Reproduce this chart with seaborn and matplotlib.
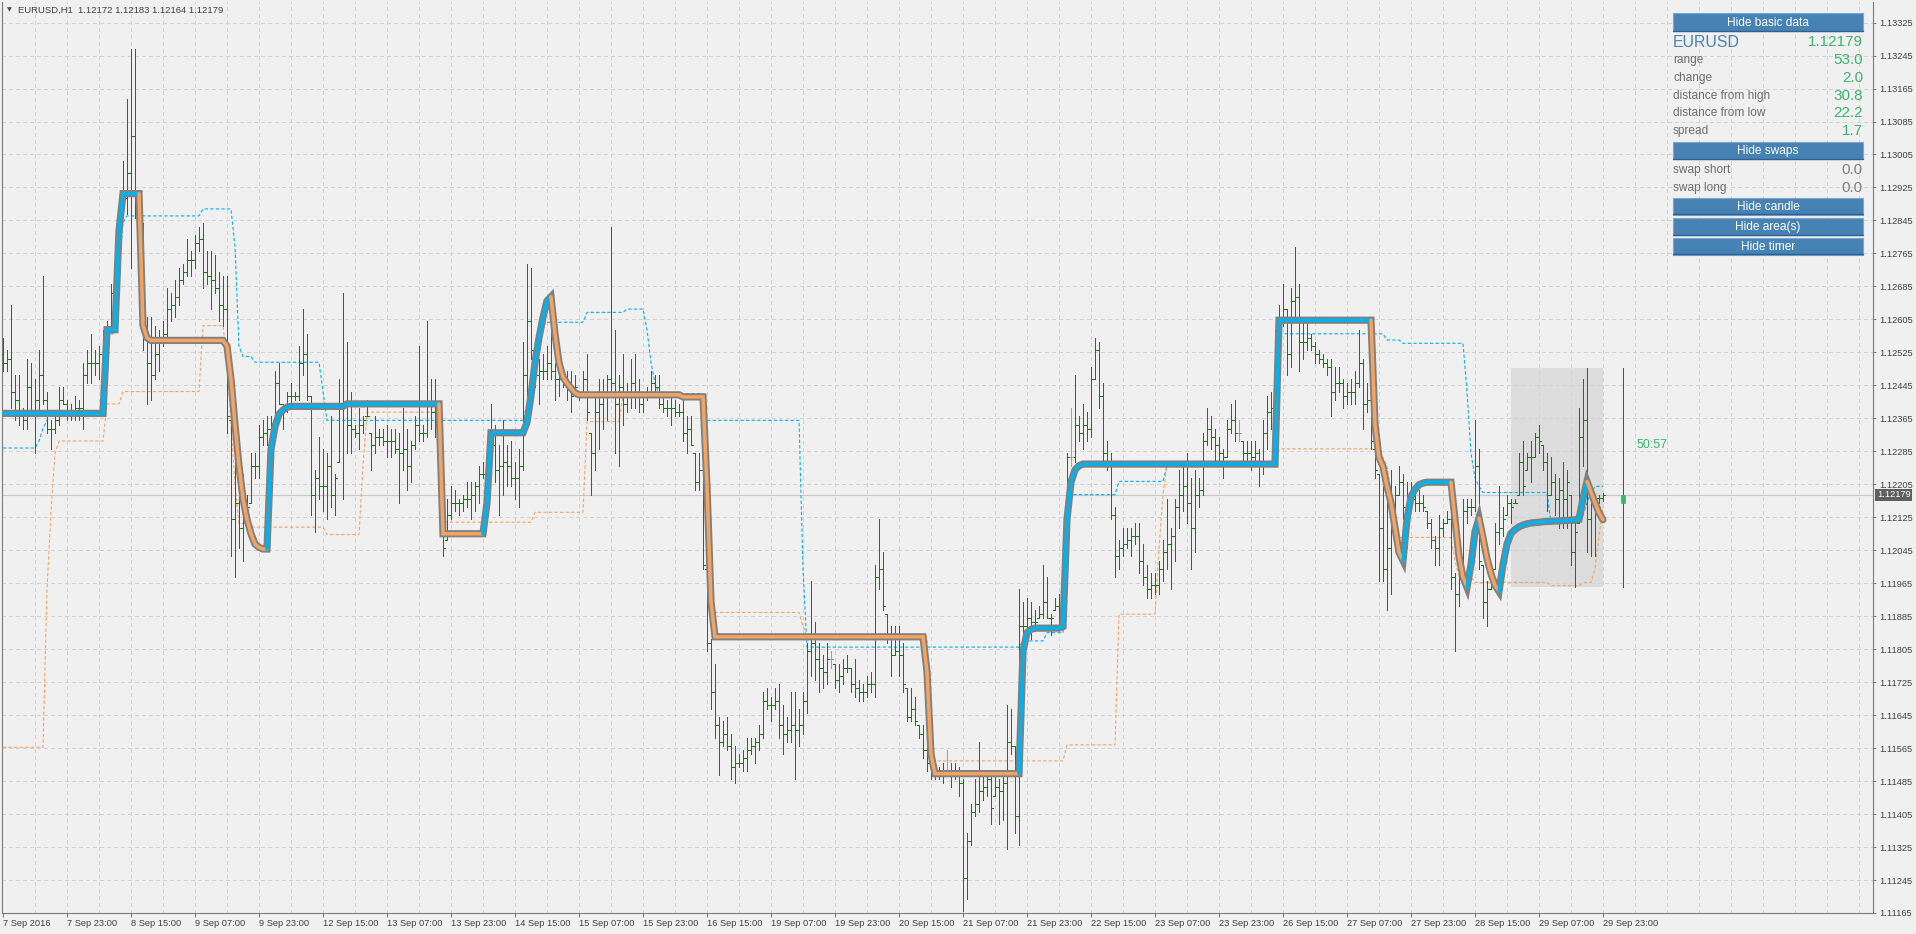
import numpy as np
import matplotlib
matplotlib.use("Agg")
import matplotlib.pyplot as plt
import seaborn as sns
from matplotlib.patches import Rectangle
from matplotlib.transforms import blended_transform_factory

# EURUSD H1, 7 Sep 07:00 .. 29 Sep 23:00 (401 bars)
# prices are stored in pips above BASE
BASE = 1.1100

bar_high = [
    156, 153, 164, 147, 147, 139, 151, 150, 146, 153, 171, 143, 136, 137, 144, 144, 141, 140, 142, 141,
    150, 153, 157, 153, 154, 158, 160, 169, 178, 183, 199, 214, 226, 226, 191, 184, 161, 161, 159, 158,
    160, 168, 167, 170, 173, 174, 180, 177, 181, 183, 184, 177, 177, 176, 172, 171, 171, 136, 132, 126,
    123, 118, 128, 128, 135, 136, 137, 137, 148, 150, 140, 143, 145, 143, 154, 163, 157, 142, 124, 132,
    129, 128, 137, 123, 146, 167, 155, 143, 135, 139, 137, 141, 133, 137, 134, 134, 135, 134, 134, 133,
    139, 134, 131, 137, 154, 135, 160, 146, 146, 140, 122, 117, 120, 119, 117, 118, 121, 121, 121, 125,
    126, 127, 140, 135, 130, 136, 130, 131, 126, 129, 155, 174, 173, 155, 151, 152, 154, 166, 150, 149,
    148, 148, 148, 147, 143, 148, 152, 133, 142, 146, 146, 147, 183, 158, 147, 152, 145, 151, 152, 146,
    143, 144, 148, 147, 147, 143, 141, 142, 141, 140, 141, 137, 137, 128, 128, 128, 100, 83, 77, 64,
    63, 64, 60, 57, 55, 56, 59, 59, 59, 62, 70, 71, 69, 71, 72, 67, 64, 70, 70, 66,
    70, 82, 97, 87, 82, 79, 82, 80, 77, 77, 78, 79, 76, 78, 73, 72, 74, 75, 101, 112,
    104, 89, 86, 86, 86, 82, 71, 71, 69, 62, 62, 58, 54, 52, 52, 53, 56, 53, 53, 52,
    49, 36, 43, 49, 58, 51, 50, 51, 50, 49, 50, 67, 66, 57, 95, 92, 93, 92, 90, 91,
    101, 98, 89, 93, 94, 105, 128, 139, 147, 137, 140, 138, 149, 156, 155, 145, 131, 128, 115, 107,
    110, 110, 110, 111, 111, 106, 101, 99, 99, 102, 107, 117, 110, 117, 124, 125, 128, 122, 124, 122,
    133, 139, 137, 134, 132, 129, 136, 140, 141, 136, 131, 131, 131, 131, 129, 136, 142, 143, 158, 164,
    169, 163, 168, 178, 169, 160, 160, 157, 155, 153, 152, 151, 151, 149, 149, 146, 145, 146, 148, 158,
    151, 145, 147, 129, 123, 120, 118, 124, 120, 125, 123, 121, 121, 119, 119, 118, 114, 112, 108, 113,
    112, 114, 114, 99, 100, 117, 117, 117, 136, 129, 101, 97, 101, 111, 120, 115, 118, 117, 117, 128,
    131, 128, 131, 133, 135, 130, 128, 127, 123, 122, 126, 124, 118, 112, 139, 146, 148.7, 118, 118, 118,
    118.3,
]

bar_low = [
    148, 148, 139, 136, 135, 134, 134, 137, 128, 137, 140, 133, 129, 133, 135, 140, 136, 136, 136, 136,
    134, 145, 145, 147, 146, 149, 152, 159, 165, 174, 187, 186, 173, 185, 179, 153, 140, 141, 146, 148,
    154, 156, 160, 161, 164, 169, 171, 171, 173, 177, 168, 169, 163, 167, 160, 159, 133, 103, 98, 105,
    102, 110, 116, 122, 122, 130, 130, 131, 134, 140, 134, 138, 140, 141, 141, 147, 141, 113, 109, 117,
    114, 112, 115, 113, 126, 117, 128, 128, 132, 129, 133, 137, 124, 128, 130, 130, 127, 127, 128, 116,
    124, 119, 121, 129, 131, 131, 132, 134, 132, 120, 103, 107, 112, 114, 113, 114, 115, 112, 114, 116,
    122, 114, 126, 121, 113, 118, 120, 120, 117, 115, 124, 140, 151, 144, 140, 146, 146, 146, 141, 142,
    144, 141, 138, 143, 141, 142, 136, 118, 124, 129, 134, 136, 142, 128, 125, 135, 138, 139, 139, 138,
    138, 141, 143, 142, 139, 138, 137, 135, 137, 137, 131, 128, 130, 119, 119, 100, 80, 66, 59, 50,
    57, 56, 49, 48, 52, 51, 51, 55, 53, 56, 59, 66, 63, 66, 59, 55, 58, 58, 49, 57,
    60, 65, 74, 73, 70, 71, 72, 76, 71, 70, 72, 75, 70, 69, 68, 68, 69, 70, 69, 95,
    90, 82, 74, 79, 74, 70, 63, 63, 62, 59, 54, 51, 49, 49, 49, 48, 51, 47, 49, 45,
    17, 20, 33, 40, 41, 44, 45, 38, 45, 38, 39, 32, 55, 36, 33, 82, 84, 83, 85, 88,
    88, 88, 84, 90, 86, 88, 100, 125, 126, 131, 129, 131, 132, 146, 139, 126, 124, 112, 98, 100,
    103, 105, 103, 106, 99, 96, 93, 93, 94, 94, 97, 100, 95, 102, 110, 114, 111, 100, 104, 115,
    118, 130, 129, 126, 126, 122, 127, 133, 131, 131, 126, 126, 124, 126, 120, 123, 129, 134, 129, 157,
    159, 147, 149, 161, 148, 151, 153, 153, 150, 150, 149, 147, 137, 141, 143, 139, 140, 140, 140, 144,
    134, 138, 129, 122, 97, 97, 90, 94, 106, 118, 112, 105, 114, 114, 114, 114, 110, 105, 101, 101,
    108, 111, 95, 80, 91, 97, 111, 113, 114, 100, 88, 86, 95, 100, 106, 108, 113, 111, 116, 118,
    118, 124, 121, 127, 128, 124, 114, 118, 113, 110, 110, 110, 101, 95.7, 111, 125, 104, 103, 103, 116,
    116.4,
]

bar_close = [
    150, 151, 143, 141, 137, 136, 144, 138, 141, 147, 141, 134, 134, 136, 141, 140, 138, 138, 139, 139,
    147, 150, 150, 150, 152, 155, 159, 167, 176, 182, 190, 196, 205, 188, 183, 157, 150, 147, 152, 155,
    157, 163, 164, 166, 170, 172, 175, 175, 179, 180, 172, 171, 170, 168, 164, 163, 137, 112, 116, 110,
    112, 115, 125, 125, 132, 133, 134, 135, 145, 140, 139, 142, 142, 142, 150, 152, 142, 118, 122, 120,
    120, 125, 118, 122, 140, 140, 135, 134, 133, 135, 136, 137, 130, 132, 132, 131, 131, 131, 129, 128,
    129, 125, 130, 135, 133, 133, 140, 138, 138, 122, 105, 113, 116, 116, 116, 117, 117, 118, 120, 123,
    123, 126, 130, 124, 125, 126, 125, 122, 122, 125, 147, 160, 153, 147, 148, 148, 150, 148, 146, 146,
    145, 144, 142, 144, 142, 146, 138, 128, 138, 140, 142, 146, 145, 140, 144, 140, 142, 145, 142, 140,
    142, 143, 145, 144, 140, 139, 139, 139, 138, 138, 133, 134, 130, 121, 124, 101, 82, 70, 62, 58,
    60, 57, 52, 53, 53, 54, 56, 57, 58, 60, 68, 67, 67, 68, 62, 60, 61, 62, 61, 62,
    68, 80, 82, 78, 76, 75, 78, 78, 73, 74, 76, 76, 72, 71, 70, 70, 72, 72, 98, 100,
    91, 84, 79, 80, 79, 72, 64, 66, 63, 60, 56, 53, 51, 50, 51, 51, 51, 50, 50, 48,
    25, 34, 41, 43, 46, 47, 49, 42, 47, 46, 48, 58, 57, 40, 86, 86, 88, 87, 87, 89,
    92, 88, 88, 91, 90, 102, 127, 127, 135, 133, 135, 134, 146, 153, 142, 128, 126, 113, 103, 105,
    106, 107, 108, 108, 102, 98, 95, 96, 96, 100, 104, 106, 108, 115, 118, 120, 116, 110, 118, 119,
    131, 134, 132, 130, 128, 127, 134, 136, 133, 133, 128, 128, 127, 128, 125, 133, 138, 139, 155, 160,
    163, 152, 165, 166, 155, 155, 156, 154, 152, 151, 150, 149, 143, 145, 145, 142, 143, 143, 145, 150,
    140, 141, 131, 124, 110, 100, 105, 115, 118, 121, 115, 117, 117, 116, 116, 115, 111, 107, 105, 110,
    111, 112, 98, 94, 98, 114, 115, 115, 125, 102, 92, 95, 99, 109, 110, 112, 116, 115, 116, 126,
    120, 127, 127, 132, 131, 126, 118, 121, 117, 119, 117, 121, 104, 109, 132, 136, 112, 116, 117.2, 117.2,
    117.9,
]

first_open = 152
grey_bars = [207, 236, 267, 309]

# trend line (thick grey with blue/orange centre)
line_vals = ([137.7] * 26 + [158] * 3 + [182] + [191] * 5 + [159, 156] + [155.4] * 19
             + [154, 146, 135, 125, 117, 112, 108.5, 106, 105.2, 104.8, 104.8]
             + [129, 134.5, 137.5, 138.5, 139.2] + [139.4] * 14 + [140] * 24
             + [108.5] * 11 + [116] + [133] * 9
             + [135.5, 142, 150, 156, 161, 165, 166, 157, 150, 146.5, 145, 143.8, 142.7]
             + [142.2] * 26 + [141.7] * 6 + [120, 92] + [83.5] * 53 + [75, 55] + [50.3] * 22
             + [80, 84.5, 85.3] + [85.6] * 7 + [86, 112, 121, 124, 125] + [125.4] * 49
             + [160.3] * 24
             + [135, 127, 124.8, 120, 116, 110, 104, 102, 112, 117.5, 119.3, 120.4, 120.8]
             + [121] * 7
             + [112, 103, 98, 95.5, 101, 109, 112.3, 107.5, 102.5, 98.8, 96, 94.5, 101, 106,
                108.6, 109.5, 110.2, 110.6, 110.9, 111.1, 111.2, 111.3, 111.4, 111.5, 111.5,
                111.6, 111.6, 111.7, 111.7, 111.8, 111.9, 112, 117, 121.2, 118.6, 116, 113.6, 111.9])

# dotted channel lines, as (first bar, level) steps
upper_runs = [(0, 129.3), (9, 131), (10, 134), (11, 136), (12, 137.5), (26, 157), (29, 172), (30, 184),
              (31, 185.6), (50, 187.3), (58, 178), (59, 154), (60, 151.5), (63, 150.1), (80, 143),
              (81, 136), (131, 140), (132, 146), (133, 152), (134, 156), (135, 159), (136, 159.8),
              (146, 162.2), (156, 163), (161, 158), (162, 150), (163, 145), (164, 142.5), (176, 136),
              (200, 100), (201, 81), (255, 82.5), (261, 84.5), (266, 118), (279, 121.2), (291, 125),
              (319, 157), (346, 155.5), (350, 154.7), (366, 143), (367, 128), (368, 122), (369, 120),
              (370, 118.5), (387, 111), (395, 113), (396, 116), (397, 118.5), (398, 120)]
lower_runs = [(0, 56.7), (11, 95), (12, 114), (13, 128), (14, 131), (26, 140), (30, 143), (50, 159),
              (56, 150), (57, 135), (58, 120), (59, 111), (62, 110.1), (81, 108.3), (90, 125), (91, 138),
              (110, 112), (111, 111.3), (133, 113.7), (146, 135.7), (155, 142), (176, 120), (177, 89.4),
              (200, 86), (201, 83.5), (232, 53.4), (266, 57.3), (279, 89), (289, 105), (290, 118),
              (291, 125), (319, 129.1), (345, 127), (346, 125), (347, 118), (348, 112), (349, 107.6),
              (363, 102), (364, 98.1), (368, 96.7), (387, 95.9), (395, 96.7), (398, 100), (399, 108),
              (400, 115)]

day_high, day_low, day_open, day_close = 148.7, 95.7, 115.9, 117.9
area_first, area_last = 377, 400

x_labels = ["7 Sep 2016", "7 Sep 23:00", "8 Sep 15:00", "9 Sep 07:00", "9 Sep 23:00", "12 Sep 15:00",
            "13 Sep 07:00", "13 Sep 23:00", "14 Sep 15:00", "15 Sep 07:00", "15 Sep 23:00",
            "16 Sep 15:00", "19 Sep 07:00", "19 Sep 23:00", "20 Sep 15:00", "21 Sep 07:00",
            "21 Sep 23:00", "22 Sep 15:00", "23 Sep 07:00", "23 Sep 23:00", "26 Sep 15:00",
            "27 Sep 07:00", "27 Sep 23:00", "28 Sep 15:00", "29 Sep 07:00", "29 Sep 23:00"]
y_ticks = [round(1.11165 + 0.0008 * k, 5) for k in range(28)]

header = "EURUSD,H1  1.12172 1.12183 1.12164 1.12179"
bid_text = "1.12179"
timer_text = "50:57"
basic_rows = [("range", "53.0"), ("change", "2.0"), ("distance from high", "30.8"),
              ("distance from low", "22.2"), ("spread", "1.7")]
swap_rows = [("swap short", "0.0"), ("swap long", "0.0")]

BG = "#f0f0f0"
GRID = "#d2d2d2"
GREEN = "#0e7f0e"
BLUE = "#00b2ee"
ORANGE = "#f4a460"
SEA = "#3cb371"
STEEL = "#4682b4"

W, H = 1916, 934
sns.set_style("white")
plt.rcParams['font.family'] = ['Liberation Sans', 'DejaVu Sans']


def px(p):
    return BASE + np.asarray(p, dtype=float) / 1e4


def expand(runs, n):
    out = np.empty(n)
    for k, (b, val) in enumerate(runs):
        e = runs[k + 1][0] if k + 1 < len(runs) else n
        out[b:e] = val
    return out


n = len(bar_close)
assert len(bar_high) == n and len(bar_low) == n and len(line_vals) == n
x = np.arange(n)
hi = px(bar_high)
lo = px(bar_low)
cl = px(bar_close)
op = np.clip(px([first_open] + bar_close[:-1]), lo, hi)

fig = plt.figure(figsize=(W / 100, H / 100), dpi=100, facecolor=BG)
ax = fig.add_axes([2 / W, (H - 913) / H, 1871 / W, 911 / H])
ax.set_facecolor(BG)
ax.set_xlim(-0.25, 467.5)
ax.set_ylim(px(16.77), px(237.49))

# grid
for k in range(8, 468, 8):
    ax.axvline(k, color=GRID, lw=0.72, linestyle=(0, (3, 3)), zorder=0.5, antialiased=False)
for t in y_ticks:
    ax.axhline(t, color=GRID, lw=0.72, linestyle=(0, (3, 3)), zorder=0.5, antialiased=False)

# today's area
ax.add_patch(Rectangle((area_first, px(day_low)), area_last - area_first, px(day_high) - px(day_low),
                       facecolor="#dcdcdc", edgecolor="none", zorder=0.4))

# bid line
ax.axhline(px(day_close), color="#c8c8c8", lw=0.8, zorder=1)

# channel lines
sns.lineplot(x=x, y=px(expand(upper_runs, n)), ax=ax, color=BLUE, lw=0.8,
             linestyle=(0, (3, 2)), zorder=2, errorbar=None)
sns.lineplot(x=x, y=px(expand(lower_runs, n)), ax=ax, color=ORANGE, lw=0.8,
             linestyle=(0, (3, 2)), zorder=2, errorbar=None)

# OHLC bars
cols = ["#a0a0a0" if i in grey_bars else GREEN for i in range(n)]
ax.vlines(x, lo, hi, colors=cols, lw=0.7, zorder=3, antialiased=False)
ax.hlines(op, x - 0.4, x, colors=cols, lw=0.7, zorder=3, antialiased=False)
ax.hlines(cl, x, x + 0.4, colors=cols, lw=0.7, zorder=3, antialiased=False)

# trend line
v = np.array(line_vals, dtype=float)
sns.lineplot(x=x, y=px(v), ax=ax, color="#808080", lw=5.2, zorder=5, errorbar=None,
             solid_joinstyle="miter")
seg_up, state = [], True
for i in range(1, n):
    if v[i] > v[i - 1]:
        state = True
    elif v[i] < v[i - 1]:
        state = False
    seg_up.append(state)
start = 0
for i in range(1, len(seg_up) + 1):
    if i == len(seg_up) or seg_up[i] != seg_up[start]:
        ax.plot(x[start:i + 1], px(v[start:i + 1]), color=BLUE if seg_up[start] else ORANGE,
                lw=2.5, zorder=6, solid_joinstyle="miter")
        start = i

# daily candle + timer
ax.vlines(405, px(day_low), px(day_high), colors=GREEN, lw=0.7, zorder=3, antialiased=False)
ax.add_patch(Rectangle((404.6, px(day_open)), 0.8, px(day_close) - px(day_open),
                       facecolor=SEA, edgecolor=SEA, lw=0.5, zorder=4))
ax.text(408.3, px(130), timer_text, color=SEA, fontsize=9, va="center", ha="left", zorder=7)

ax.set_xlabel("")
ax.set_ylabel("")

# axes / ticks
for s in ("left", "right", "bottom"):
    ax.spines[s].set_color("#7a7a7a")
    ax.spines[s].set_linewidth(0.8)
ax.spines["top"].set_visible(False)
ax.yaxis.tick_right()
ax.set_yticks(y_ticks)
ax.set_yticklabels([f"{t:.5f}" for t in y_ticks])
ax.set_xticks(np.arange(0, 16 * len(x_labels), 16))
ax.set_xticklabels(x_labels)
for lab in ax.get_xticklabels():
    lab.set_ha("left")
ax.tick_params(axis="y", right=True, left=False, length=2.2, width=0.7, color="#7a7a7a",
               labelsize=6.7, labelcolor="#404040", pad=2)
ax.tick_params(axis="x", bottom=True, length=3, width=0.7, color="#7a7a7a",
               labelsize=6.7, labelcolor="#404040", pad=1.5)

# current price marker on the price scale
tr = blended_transform_factory(ax.transAxes, ax.transData)
ax.text(1.0 + 4 / 1871, px(day_close), bid_text, transform=tr, ha="left", va="center",
        color="white", fontsize=6.7, zorder=10, clip_on=False,
        bbox=dict(boxstyle="square,pad=0.18", fc="#5f5f5f", ec="none"))


def fx(p):
    return p / W


def fy(p):
    return 1 - p / H


# header
fig.text(fx(7), fy(10), "\u25bc", fontsize=4.5, color="#505050", va="center", ha="left",
         family="DejaVu Sans")
fig.text(fx(18), fy(10), header, fontsize=6.8, color="#404040", va="center", ha="left")

# info panel
PL, PR = 1673, 1863


def button(label, y0, y1):
    fig.add_artist(Rectangle((fx(PL), fy(y1)), (PR - PL) / W, (y1 - y0) / H, transform=fig.transFigure,
                             facecolor=STEEL, edgecolor="#7aa7d2", lw=0.8, zorder=20))
    fig.add_artist(plt.Line2D([fx(PL), fx(PR)], [fy(y1 - 0.5), fy(y1 - 0.5)], transform=fig.transFigure,
                              color="#2f5f8f", lw=1.0, zorder=21))
    fig.text(fx((PL + PR) / 2), fy((y0 + y1) / 2 + 0.5), label, color="white", fontsize=8.6,
             ha="center", va="center", zorder=22)


button("Hide basic data", 13, 31)
fig.text(fx(PL), fy(42.5), "EURUSD", color=STEEL, fontsize=11.4, ha="left", va="center", zorder=22)
fig.text(fx(PR), fy(42.5), bid_text, color=SEA, fontsize=11, ha="right", va="center", zorder=22)
for k, (name, val) in enumerate(basic_rows):
    yy = 60 + k * 17.8
    fig.text(fx(PL), fy(yy), name, color="#6e6e6e", fontsize=8.6, ha="left", va="center", zorder=22)
    fig.text(fx(PR), fy(yy), val, color=SEA, fontsize=11, ha="right", va="center", zorder=22)
button("Hide swaps", 142, 159)
for k, (name, val) in enumerate(swap_rows):
    yy = 170 + k * 18
    fig.text(fx(PL), fy(yy), name, color="#6e6e6e", fontsize=8.6, ha="left", va="center", zorder=22)
    fig.text(fx(PR), fy(yy), val, color="#808080", fontsize=11, ha="right", va="center", zorder=22)
button("Hide candle", 198, 214.5)
button("Hide area(s)", 218.5, 235)
button("Hide timer", 238, 254.5)

fig.savefig("out.png", dpi=100, facecolor=BG)
